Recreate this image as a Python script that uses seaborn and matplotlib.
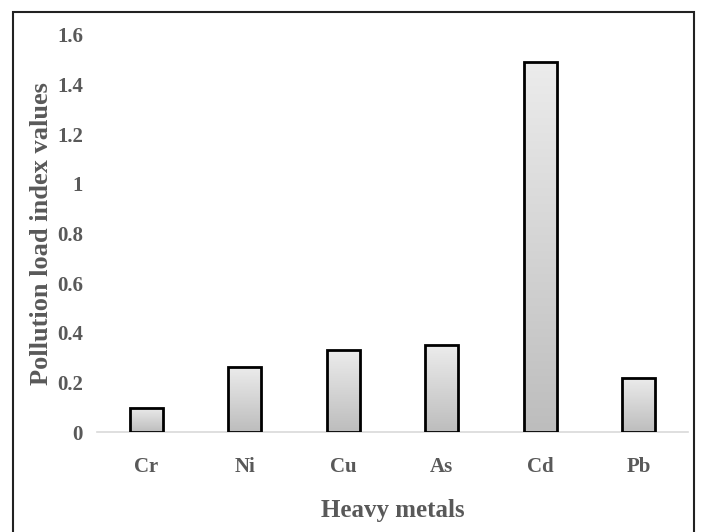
import numpy as np
import pandas as pd
import matplotlib
matplotlib.use("Agg")
import matplotlib.pyplot as plt
from matplotlib.patches import Rectangle
from matplotlib.colors import LinearSegmentedColormap
import seaborn as sns

metals = ["Cr", "Ni", "Cu", "As", "Cd", "Pb"]
pli_values = [0.098, 0.263, 0.33, 0.35, 1.49, 0.219]
y_ticks = [0, 0.2, 0.4, 0.6, 0.8, 1, 1.2, 1.4, 1.6]
y_tick_labels = ["0", "0.2", "0.4", "0.6", "0.8", "1", "1.2", "1.4", "1.6"]

sns.set_style("white")
plt.rcParams["font.family"] = ["Liberation Serif", "DejaVu Serif"]

df = pd.DataFrame({"metal": metals, "value": pli_values})

fig = plt.figure(figsize=(7.02, 5.32), dpi=100)
ax = fig.add_axes([97 / 702, 100 / 532, (688 - 97) / 702, (432 - 35) / 532])

sns.barplot(data=df, x="metal", y="value", ax=ax, width=0.33,
            facecolor="none", edgecolor="black", linewidth=2.0, zorder=3)

ax.set_xlim(-0.5, 5.5)
ax.set_ylim(0, 1.6)

cmap = LinearSegmentedColormap.from_list("g", ["#bdbdbd", "#ececec"])
grad = np.linspace(0, 1, 256).reshape(-1, 1)
for p in ax.patches:
    x0, w, h = p.get_x(), p.get_width(), p.get_height()
    ax.imshow(grad, cmap=cmap, origin="lower", aspect="auto",
              extent=[x0, x0 + w, 0, h], zorder=2, interpolation="bilinear")
ax.set_xlim(-0.5, 5.5)
ax.set_ylim(0, 1.6)

ax.set_yticks(y_ticks)
ax.set_yticklabels(y_tick_labels)
ax.tick_params(axis="both", length=0, labelsize=15, labelcolor="#595959")
ax.tick_params(axis="x", pad=18)
ax.tick_params(axis="y", pad=10)
for lab in ax.get_xticklabels() + ax.get_yticklabels():
    lab.set_fontweight("bold")

for s in ["top", "right", "left"]:
    ax.spines[s].set_visible(False)
ax.spines["bottom"].set_color("#d9d9d9")
ax.spines["bottom"].set_linewidth(1.2)
ax.spines["bottom"].set_zorder(1)

ax.set_xlabel("Heavy metals", fontsize=18, fontweight="bold", color="#595959", labelpad=16)
ax.set_ylabel("Pollution load index values", fontsize=19, fontweight="bold", color="#595959", labelpad=3)

border = Rectangle((13 / 702, -0.05), (694 - 13) / 702, (532 - 12) / 532 + 0.05,
                   transform=fig.transFigure, fill=False, edgecolor="#222222",
                   linewidth=1.5, clip_on=False)
fig.patches.append(border)

fig.savefig("out.png", dpi=100)
